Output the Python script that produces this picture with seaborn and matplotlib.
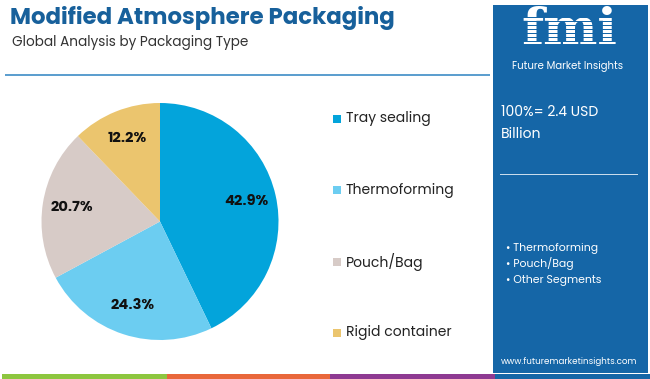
import seaborn as sns
import matplotlib.pyplot as plt
from matplotlib.patches import Rectangle

# Data
segments = ['Tray sealing', 'Thermoforming', 'Pouch/Bag', 'Rigid container']
shares = [42.9, 24.3, 20.7, 12.2]
colors = ['#03a4db', '#6ccdf1', '#d7cbc7', '#ebc56e']
panel_bullets = ['Thermoforming', 'Pouch/Bag', 'Other Segments']

sns.set_theme(style='white')
plt.rcParams['font.family'] = ['Poppins', 'Lato', 'DejaVu Sans']

W, H = 650, 379
fig = plt.figure(figsize=(W / 100, H / 100), dpi=100)
fig.patch.set_facecolor('white')
panel_c = '#1566a7'

def fx(px):
    return px / W

def fy(py):
    return 1 - py / H

# titles
fig.text(fx(10), fy(18), 'Modified Atmosphere Packaging', fontsize=16.5,
         fontweight='bold', color='#17609b', va='center', ha='left')
fig.text(fx(12), fy(42), 'Global Analysis by Packaging Type', fontsize=9.8,
         color='#333333', va='center', ha='left')

# separator line below titles
fig.add_artist(Rectangle((fx(5), fy(76)), fx(485), 2 / H, transform=fig.transFigure,
                         color='#5d9fcf', lw=0))

# bottom colour strip
strip = [(2, 167, '#8dc63f'), (167, 330, '#e9673b'), (330, 495, '#8e3a92'), (495, 650, panel_c)]
for x0, x1, c in strip:
    fig.add_artist(Rectangle((fx(x0), 0), fx(x1 - x0), 5 / H, transform=fig.transFigure,
                             color=c, lw=0))

# pie
cx, cy, r = 160, 221.5, 118.5
ax = fig.add_axes([fx(cx - r), fy(cy + r), fx(2 * r), 2 * r / H])
wedges, texts, autotexts = ax.pie(shares, colors=colors, startangle=90, counterclock=False,
                                  autopct='%1.1f%%', pctdistance=0.75,
                                  wedgeprops=dict(linewidth=0))
for t in autotexts:
    t.set_fontsize(10.5)
    t.set_fontweight('bold')
    t.set_color('#111111')
ax.set_xlim(-1, 1)
ax.set_ylim(-1, 1)
ax.set_aspect('equal')
ax.axis('off')

# legend
leg_y = [119, 190, 262, 333]
for lab, c, y in zip(segments, colors, leg_y):
    fig.add_artist(Rectangle((fx(333), fy(y + 4)), fx(8), 8 / H, transform=fig.transFigure,
                             color=c, lw=0))
    fig.text(fx(346), fy(y), lab, fontsize=10, color='#222222', va='center', ha='left')

# right panel
fig.add_artist(Rectangle((fx(493), fy(373)), fx(155), 368 / H, transform=fig.transFigure,
                         color=panel_c, lw=0))
fig.text(fx(569), fy(31), 'fmi', fontsize=37, fontweight='bold', color='white',
         ha='center', va='center', family='DejaVu Serif')
# striped look of the logo
for yy in range(18, 56, 4):
    fig.add_artist(Rectangle((fx(510), fy(yy)), fx(120), 1.0 / H, transform=fig.transFigure,
                             color=panel_c, lw=0, zorder=5))
fig.text(fx(568), fy(67), 'Future Market Insights', fontsize=7.3, color='white',
         ha='center', va='center')
fig.text(fx(501), fy(112), '100%= 2.4 USD', fontsize=10, color='white', ha='left', va='center')
fig.text(fx(501), fy(134), 'Billion', fontsize=10, color='white', ha='left', va='center')
fig.add_artist(Rectangle((fx(500), fy(175)), fx(138), 1.2 / H, transform=fig.transFigure,
                         color='#c9dcec', lw=0))
for i, b in enumerate(panel_bullets):
    y = [248, 263, 280][i]
    fig.text(fx(506), fy(y), '\u2022 ' + b, fontsize=7.8, color='white', ha='left', va='center')
fig.text(fx(569), fy(362), 'www.futuremarketinsights.com', fontsize=6.3, color='white',
         ha='center', va='center')

fig.savefig('out.png', dpi=100)
